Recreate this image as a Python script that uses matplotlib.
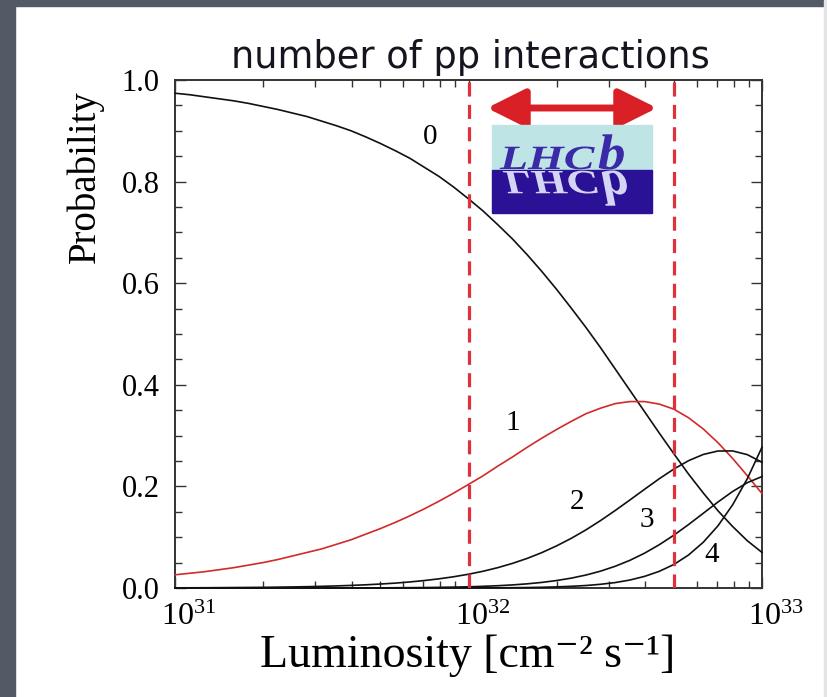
import numpy as np
import matplotlib
matplotlib.use('Agg')
import matplotlib.pyplot as plt
from matplotlib.patches import Rectangle, PathPatch
from matplotlib.textpath import TextPath
from matplotlib.font_manager import FontProperties
from matplotlib.transforms import Affine2D, ScaledTranslation
from matplotlib.ticker import MultipleLocator, LogLocator, NullFormatter

plt.rcParams['font.family'] = ['Liberation Serif', 'DejaVu Serif']
plt.rcParams['mathtext.fontset'] = 'stix'

# luminosity grid, log10(L / cm^-2 s^-1)
log_lumi = [31.00, 31.05, 31.10, 31.15, 31.20, 31.25, 31.30, 31.35, 31.40, 31.45,
            31.50, 31.55, 31.60, 31.65, 31.70, 31.75, 31.80, 31.85, 31.90, 31.95,
            32.00, 32.05, 32.10, 32.15, 32.20, 32.25, 32.30, 32.35, 32.40, 32.45,
            32.50, 32.55, 32.60, 32.65, 32.70, 32.75, 32.80, 32.85, 32.90, 32.95,
            33.00]

# probability of n pp interactions per bunch crossing (last one: 4 or more)
p0 = [0.974, 0.971, 0.967, 0.963, 0.959, 0.954, 0.948, 0.942, 0.935, 0.928,
      0.919, 0.910, 0.900, 0.888, 0.875, 0.861, 0.846, 0.828, 0.810, 0.789,
      0.766, 0.742, 0.715, 0.687, 0.656, 0.623, 0.588, 0.551, 0.513, 0.473,
      0.431, 0.389, 0.347, 0.305, 0.264, 0.224, 0.187, 0.152, 0.121, 0.093,
      0.070]
p1 = [0.026, 0.029, 0.032, 0.036, 0.040, 0.045, 0.050, 0.056, 0.063, 0.070,
      0.077, 0.086, 0.095, 0.106, 0.117, 0.129, 0.142, 0.156, 0.171, 0.187,
      0.204, 0.221, 0.240, 0.258, 0.277, 0.295, 0.312, 0.328, 0.343, 0.354,
      0.363, 0.367, 0.367, 0.362, 0.352, 0.335, 0.313, 0.286, 0.255, 0.221,
      0.186]
p2 = [0.0003, 0.0004, 0.0005, 0.0007, 0.0009, 0.0011, 0.0013, 0.0017, 0.0021, 0.0026,
      0.0033, 0.0041, 0.0051, 0.0063, 0.0078, 0.0096, 0.0119, 0.0147, 0.0181, 0.0222,
      0.0271, 0.0330, 0.0401, 0.0485, 0.0583, 0.0697, 0.0829, 0.0977, 0.1144, 0.1328,
      0.1526, 0.1733, 0.1944, 0.2151, 0.2343, 0.2507, 0.2629, 0.2697, 0.2698, 0.2625,
      0.2475]
p3 = [0.0, 0.0, 0.0, 0.0, 0.0, 0.0, 0.0, 0.0, 0.0, 0.0001,
      0.0001, 0.0001, 0.0002, 0.0002, 0.0003, 0.0005, 0.0007, 0.0009, 0.0013, 0.0018,
      0.0024, 0.0033, 0.0045, 0.0061, 0.0082, 0.0110, 0.0147, 0.0194, 0.0255, 0.0332,
      0.0428, 0.0545, 0.0686, 0.0852, 0.1041, 0.1250, 0.1471, 0.1693, 0.1900, 0.2074,
      0.2194]
p4 = [0.0, 0.0, 0.0, 0.0, 0.0, 0.0, 0.0, 0.0, 0.0, 0.0,
      0.0, 0.0, 0.0, 0.0, 0.0, 0.0, 0.0, 0.0, 0.0001, 0.0001,
      0.0002, 0.0003, 0.0004, 0.0006, 0.0009, 0.0014, 0.0022, 0.0033, 0.0049, 0.0073,
      0.0107, 0.0157, 0.0229, 0.0328, 0.0464, 0.0651, 0.0901, 0.1224, 0.1638, 0.2152,
      0.2771]

curves = [p0, p1, p2, p3, p4]
curve_colors = ['#111111', '#d02a2a', '#111111', '#111111', '#111111']
curve_names = ['0', '1', '2', '3', '4']
name_lumi = [7.4e31, 1.41e32, 2.34e32, 4.06e32, 6.76e32]
name_prob = [0.888, 0.325, 0.169, 0.134, 0.065]

# LHCb design luminosity window
cut_lumi = [1e32, 5e32]

W, H = 827, 697
fig = plt.figure(figsize=(W / 100, H / 100), dpi=100, facecolor='white')

# grey frame around the slide
fig.patches.append(Rectangle((0, 1 - 6 / H), 1, 6 / H, transform=fig.transFigure,
                             color='#535a66', zorder=0))
fig.patches.append(Rectangle((0, 0), 15 / W, 1, transform=fig.transFigure,
                             color='#535a66', zorder=0))
fig.patches.append(Rectangle((1 - 3 / W, 0), 3 / W, 1, transform=fig.transFigure,
                             color='#e2e4e6', zorder=0))

ax = fig.add_axes([175 / W, (H - 588) / H, (762 - 175) / W, (588 - 80) / H])

lumi = [10 ** v for v in log_lumi]
for p, c in zip(curves, curve_colors):
    ax.plot(lumi, p, color=c, lw=1.2, zorder=3, clip_on=False)

for x in cut_lumi:
    ax.axvline(x, color='#e0303c', lw=2.3, dashes=(4.4, 2.6), zorder=4)

for name, x, y in zip(curve_names, name_lumi, name_prob):
    ax.text(x, y, name, fontsize=21, ha='center', va='center')

ax.set_xscale('log')
ax.set_xlim(1e31, 1e33)
ax.set_ylim(0, 1)
ax.yaxis.set_minor_locator(MultipleLocator(0.05))
ax.xaxis.set_major_locator(LogLocator(base=10))
ax.xaxis.set_minor_locator(LogLocator(base=10, subs=np.arange(2, 10)))
ax.xaxis.set_minor_formatter(NullFormatter())
ax.set_yticks([0, 0.2, 0.4, 0.6, 0.8, 1.0])
ax.set_yticklabels(['0.0', '0.2', '0.4', '0.6', '0.8', '1.0'])
ax.tick_params(which='both', direction='in', top=True, right=True, width=1.0, color='#333333')
ax.tick_params(which='major', length=8)
ax.tick_params(which='minor', length=5)
ax.tick_params(axis='x', pad=11, labelsize=23)
ax.tick_params(axis='y', pad=11, labelsize=22)
for s in ax.spines.values():
    s.set_linewidth(1.4)
    s.set_color('#333333')

# x tick labels sit a little right of their ticks
shift = ScaledTranslation(14 / 100, 0, fig.dpi_scale_trans)
for lab in ax.get_xticklabels():
    lab.set_transform(lab.get_transform() + shift)

ax.set_ylabel('Probability', fontsize=28, va='center')
ax.yaxis.set_label_coords(-0.153, 0.809)
ax.set_xlabel('Luminosity [cm⁻² s⁻¹]', fontsize=33)
ax.xaxis.set_label_coords(0.499, -0.092)

fig.text(470 / W, 1 - 57 / H, 'number of pp interactions', fontsize=26.5,
         family='DejaVu Sans', ha='center', va='center', color='#15151f')

# double arrow over the window
ax.annotate('', xy=(657, H - 108), xytext=(487, H - 108),
            xycoords='figure pixels', textcoords='figure pixels',
            arrowprops=dict(arrowstyle='<|-|>,head_length=1.3,head_width=0.65',
                            lw=5, color='#d92027', mutation_scale=18,
                            shrinkA=0, shrinkB=0))

# LHCb logo
fig.patches.append(Rectangle((492 / W, 1 - 170 / H), 160 / W, 45 / H,
                             transform=fig.transFigure, color='#bfe4e6', zorder=5))
fig.patches.append(Rectangle((492 / W, 1 - 213 / H), 160 / W, 43 / H,
                             transform=fig.transFigure, color='#2a1196', zorder=5))

logo_font = FontProperties(family='Liberation Serif', style='italic', weight='bold')


def logo_text(s, x, y, size, sx, flip, color):
    tp = TextPath((0, 0), s, size=size, prop=logo_font)
    tr = Affine2D().scale(sx / 100, (-1 if flip else 1) / 100).translate(x / 100, (H - y) / 100)
    fig.patches.append(PathPatch(tp, transform=tr + fig.dpi_scale_trans,
                                 facecolor=color, edgecolor='none', zorder=6))


logo_text('LHC', 500, 169, 34, 1.35, False, '#3b2aa8')
logo_text('b', 598, 169, 50, 1.1, False, '#3b2aa8')
logo_text('LHC', 503, 171, 34, 1.35, True, '#d4d4f4')
logo_text('b', 601, 171, 50, 1.1, True, '#d4d4f4')

fig.savefig('out.png', dpi=100, facecolor='white')
